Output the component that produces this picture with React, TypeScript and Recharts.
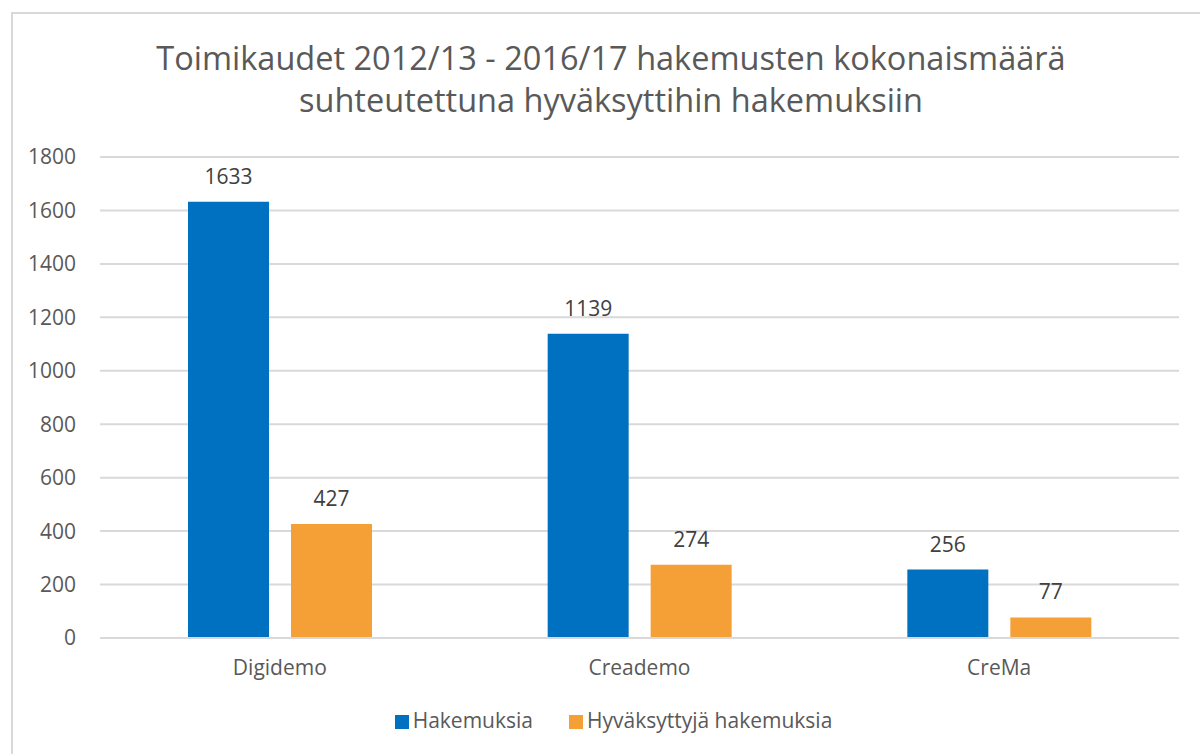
import { Bar, BarChart, CartesianGrid, LabelList, Legend, XAxis, YAxis } from "recharts";

const categories = ["Digidemo", "Creademo", "CreMa"];
const hakemuksia = [1633, 1139, 256];
const hyvaksyttyja = [427, 274, 77];
const yTicks = [0, 200, 400, 600, 800, 1000, 1200, 1400, 1600, 1800];

const data = categories.map((name, i) => ({
  name,
  hakemuksia: hakemuksia[i],
  hyvaksyttyja: hyvaksyttyja[i]
}));

const font = "'Open Sans', sans-serif";
const textColor = "#595959";

export default function App() {
  return (
    <div style={{ position: "absolute", left: 0, top: 0, width: 1200, height: 754, background: "#fff", overflow: "hidden", fontFamily: font }}>
      <div
        style={{
          position: "absolute",
          left: 11,
          top: 12,
          width: 1200,
          height: 760,
          border: "2px solid #d9d9d9",
          boxSizing: "border-box"
        }}
      />
      <div
        style={{
          position: "absolute",
          left: 11,
          top: 37,
          width: 1200,
          textAlign: "center",
          fontSize: 32.5,
          lineHeight: "42px",
          color: textColor
        }}
      >
        Toimikaudet 2012/13 - 2016/17 hakemusten kokonaismäärä
        <br />
        suhteutettuna hyväksyttihin hakemuksiin
      </div>
      <div style={{ position: "absolute", left: 0, top: 0 }}>
        <BarChart
          width={1200}
          height={754}
          data={data}
          margin={{ top: 157, right: 21, bottom: 46, left: 40 }}
          barGap={22}
          barSize={81}
        >
          <CartesianGrid vertical={false} stroke="#d9d9d9" strokeWidth={2} />
          <XAxis
            dataKey="name"
            axisLine={{ stroke: "#d9d9d9", strokeWidth: 2 }}
            tickLine={false}
            tickSize={0}
            tickMargin={22}
            height={40}
            tick={{ fill: textColor, fontSize: 21, fontFamily: font }}
          />
          <YAxis
            domain={[0, 1800]}
            ticks={yTicks}
            axisLine={false}
            tickLine={false}
            tickSize={0}
            tickMargin={24}
            width={60}
            tick={{ fill: textColor, fontSize: 21, fontFamily: font }}
          />
          <Legend
            verticalAlign="bottom"
            iconType="square"
            iconSize={14}
            height={30}
            wrapperStyle={{ bottom: 18, left: 62, fontSize: 21, fontFamily: font }}
            formatter={(value: string) => <span style={{ color: textColor, marginRight: 26 }}>{value}</span>}
          />
          <Bar dataKey="hakemuksia" name="Hakemuksia" fill="#0070c0" isAnimationActive={false}>
            <LabelList dataKey="hakemuksia" position="top" offset={18} fill="#404040" fontSize={21} fontFamily={font} />
          </Bar>
          <Bar dataKey="hyvaksyttyja" name="Hyväksyttyjä hakemuksia" fill="#f4a037" isAnimationActive={false}>
            <LabelList dataKey="hyvaksyttyja" position="top" offset={18} fill="#404040" fontSize={21} fontFamily={font} />
          </Bar>
        </BarChart>
      </div>
    </div>
  );
}
